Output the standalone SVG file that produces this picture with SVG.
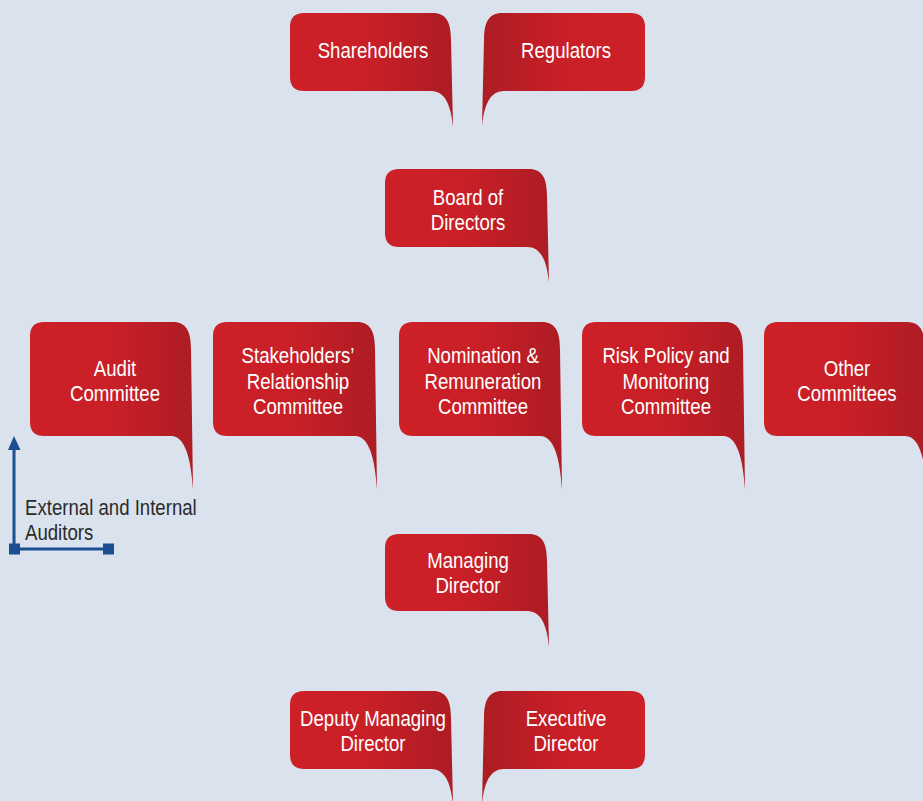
<svg xmlns="http://www.w3.org/2000/svg" width="923" height="801" viewBox="0 0 923 801">
<defs>
<linearGradient id="gR" x1="0" y1="0" x2="1" y2="0">
<stop offset="0" stop-color="#cd2027"/><stop offset="0.5" stop-color="#c91f27"/><stop offset="1" stop-color="#ad1c24"/>
</linearGradient>
<linearGradient id="gL" x1="1" y1="0" x2="0" y2="0">
<stop offset="0" stop-color="#cd2027"/><stop offset="0.5" stop-color="#c91f27"/><stop offset="1" stop-color="#ad1c24"/>
</linearGradient>
<style>
.r{fill:url(#gR)}
.l{fill:url(#gL)}
.t{font-family:"Liberation Sans",Arial,sans-serif;font-size:23px;fill:#ffffff;text-anchor:middle}
.a{font-family:"Liberation Sans",Arial,sans-serif;font-size:23px;fill:#2b2b2b}
.c{stroke:#1c4f91;stroke-width:3;fill:none}
.cf{fill:#1c4f91}
</style>
</defs>
<rect width="923" height="801" fill="#d9e2ed"/>
<g id="shareholders">
<path class="r" d="M304,13 H433 C446,13 451,22 451,40 L453,127 C451,105 445,91 431,91 H304 Q290,91 290,77 V27 Q290,13 304,13 Z"/>
<text class="t" transform="translate(373 58) scale(0.81 1)">Shareholders</text>
</g>
<g id="regulators">
<path class="l" d="M631,13 H502 C489,13 484,22 484,40 L482,127 C484,105 490,91 504,91 H631 Q645,91 645,77 V27 Q645,13 631,13 Z"/>
<text class="t" transform="translate(566 58) scale(0.81 1)">Regulators</text>
</g>
<g id="board">
<path class="r" d="M399,169 H529 C542,169 547,178 547,196 L549,283 C547,261 541,247 527,247 H399 Q385,247 385,233 V183 Q385,169 399,169 Z"/>
<text class="t" transform="translate(468 205) scale(0.81 1)">Board of</text>
<text class="t" transform="translate(468 230) scale(0.81 1)">Directors</text>
</g>
<g id="audit">
<path class="r" d="M44,322 H173 C186,322 191,331 191,349 L193,490 C191,458 185,436 171,436 H44 Q30,436 30,422 V336 Q30,322 44,322 Z"/>
<text class="t" transform="translate(115 376) scale(0.81 1)">Audit</text>
<text class="t" transform="translate(115 401) scale(0.81 1)">Committee</text>
</g>
<g id="stakeholders">
<path class="r" d="M227,322 H357 C370,322 375,331 375,349 L377,490 C375,458 369,436 355,436 H227 Q213,436 213,422 V336 Q213,322 227,322 Z"/>
<text class="t" transform="translate(298 363) scale(0.81 1)">Stakeholders’</text>
<text class="t" transform="translate(298 389) scale(0.81 1)">Relationship</text>
<text class="t" transform="translate(298 414) scale(0.81 1)">Committee</text>
</g>
<g id="nomination">
<path class="r" d="M413,322 H542 C555,322 560,331 560,349 L562,490 C560,458 554,436 540,436 H413 Q399,436 399,422 V336 Q399,322 413,322 Z"/>
<text class="t" transform="translate(483 363) scale(0.81 1)">Nomination &amp;</text>
<text class="t" transform="translate(483 389) scale(0.81 1)">Remuneration</text>
<text class="t" transform="translate(483 414) scale(0.81 1)">Committee</text>
</g>
<g id="risk">
<path class="r" d="M596,322 H725 C738,322 743,331 743,349 L745,490 C743,458 737,436 723,436 H596 Q582,436 582,422 V336 Q582,322 596,322 Z"/>
<text class="t" transform="translate(666 363) scale(0.81 1)">Risk Policy and</text>
<text class="t" transform="translate(666 389) scale(0.81 1)">Monitoring</text>
<text class="t" transform="translate(666 414) scale(0.81 1)">Committee</text>
</g>
<g id="other">
<path class="r" d="M778,322 H907 C920,322 925,331 925,349 L927,490 C925,458 919,436 905,436 H778 Q764,436 764,422 V336 Q764,322 778,322 Z"/>
<text class="t" transform="translate(847 376) scale(0.81 1)">Other</text>
<text class="t" transform="translate(847 401) scale(0.81 1)">Committees</text>
</g>
<g id="auditors">
<text class="a" transform="translate(25 515) scale(0.81 1)">External and Internal</text>
<text class="a" transform="translate(25 540) scale(0.81 1)">Auditors</text>
</g>
<g id="managing">
<path class="r" d="M399,534 H529 C542,534 547,543 547,561 L549,647 C547,625 541,611 527,611 H399 Q385,611 385,597 V548 Q385,534 399,534 Z"/>
<text class="t" transform="translate(468 568) scale(0.81 1)">Managing</text>
<text class="t" transform="translate(468 593) scale(0.81 1)">Director</text>
</g>
<g id="deputy">
<path class="r" d="M304,691 H433 C446,691 451,700 451,718 L453,805 C451,783 445,769 431,769 H304 Q290,769 290,755 V705 Q290,691 304,691 Z"/>
<text class="t" transform="translate(373 726) scale(0.81 1)">Deputy Managing</text>
<text class="t" transform="translate(373 751) scale(0.81 1)">Director</text>
</g>
<g id="executive">
<path class="l" d="M631,691 H502 C489,691 484,700 484,718 L482,805 C484,783 490,769 504,769 H631 Q645,769 645,755 V705 Q645,691 631,691 Z"/>
<text class="t" transform="translate(566 726) scale(0.81 1)">Executive</text>
<text class="t" transform="translate(566 751) scale(0.81 1)">Director</text>
</g>
<g id="connectors">
<path class="c" d="M14,549 V449 M14,549 H108"/>
<polygon class="cf" points="8,450 20.5,450 14,436"/>
<rect class="cf" x="9" y="543.5" width="11" height="11"/>
<rect class="cf" x="103" y="543.5" width="11" height="11"/>
</g>
</svg>
